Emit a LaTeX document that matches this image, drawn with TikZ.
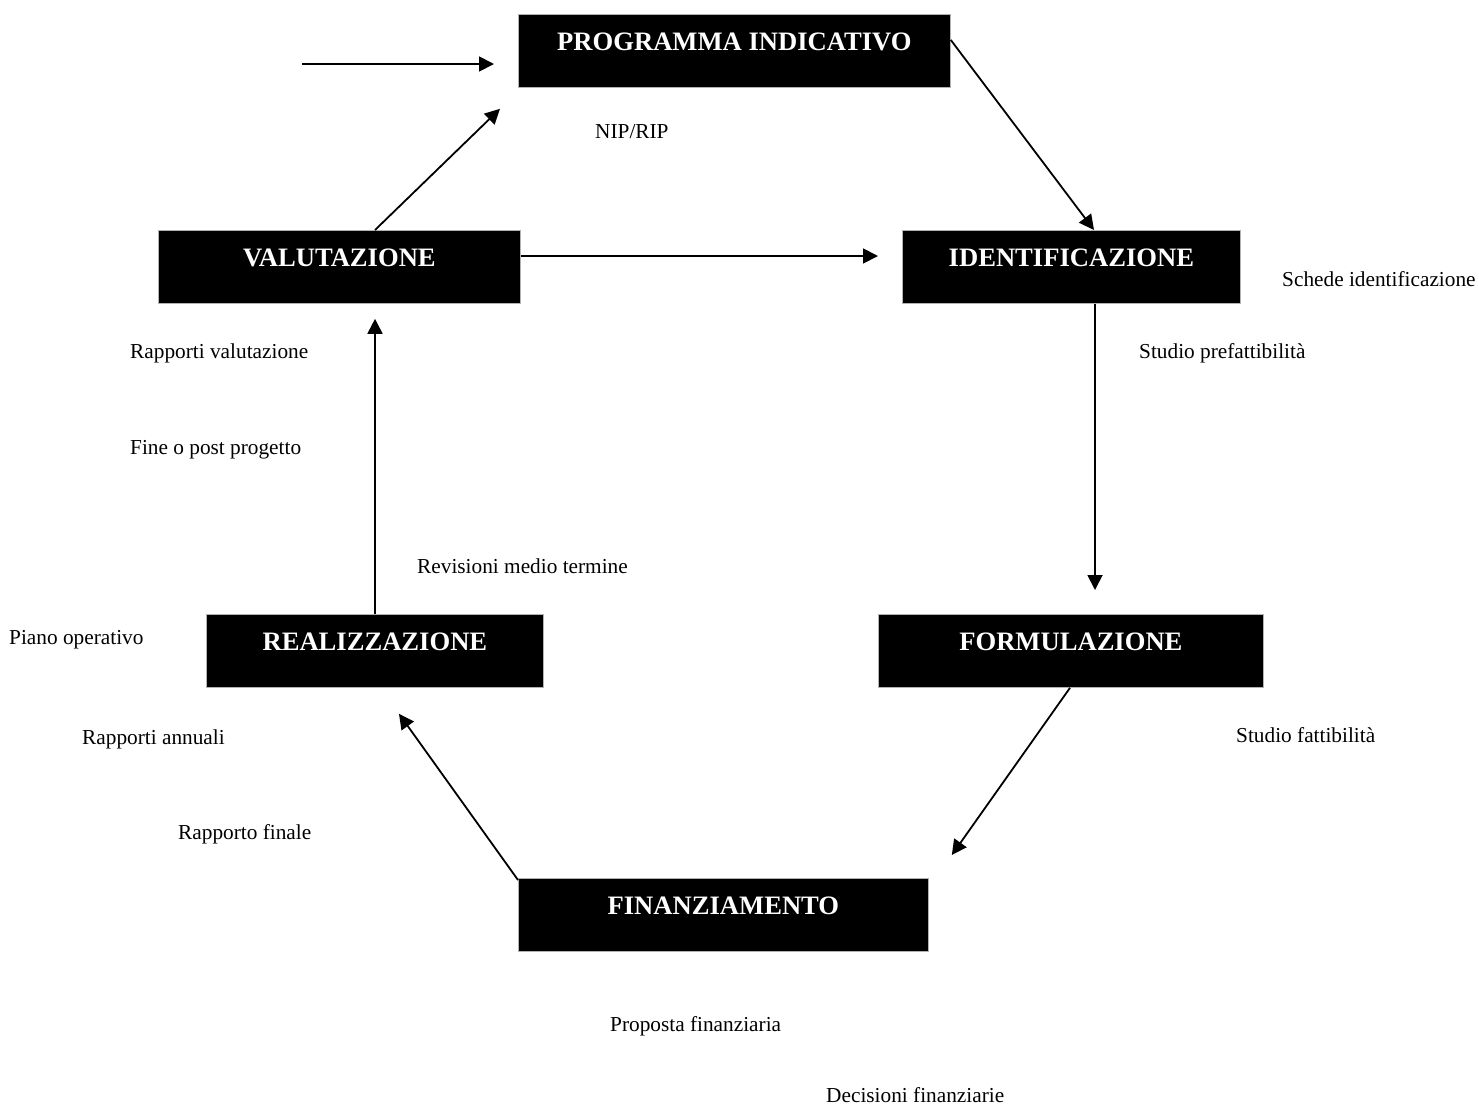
\documentclass[tikz,border=0pt]{standalone}
\usepackage{fontspec}
\setmainfont{Liberation Serif}
\usetikzlibrary{arrows.meta,calc}
\begin{document}
\begin{tikzpicture}[x=1pt,y=-1pt,
  phase/.style={draw=gray!60,line width=0.8pt,fill=black,anchor=north west,inner sep=0pt,minimum height=73pt},
  title/.style={text=white,font=\fontsize{26.6}{30}\selectfont\bfseries,inner sep=0pt},
  note/.style={font=\fontsize{21.3}{25}\selectfont,anchor=base west,inner sep=0pt},
  flow/.style={line width=1.8pt,-{Triangle[length=15pt,width=15pt]}}]
\useasboundingbox[fill=white] (0,0) rectangle (1479,1106);

% phase boxes
\node[phase,minimum width=432pt] (prog)  at (518,14)  {};
\node[phase,minimum width=362pt] (val)   at (158,230) {};
\node[phase,minimum width=338pt] (ident) at (902,230) {};
\node[phase,minimum width=337pt] (real)  at (206,614) {};
\node[phase,minimum width=385pt] (form)  at (878,614) {};
\node[phase,minimum width=410pt] (fin)   at (518,878) {};

% phase titles, set in the upper part of each box
\node[title] (progT)  at ($(prog.north)+(0,28)$)  {PROGRAMMA INDICATIVO};
\node[title] (valT)   at ($(val.north)+(0,28)$)   {VALUTAZIONE};
\node[title] (identT) at ($(ident.north)+(0,28)$) {IDENTIFICAZIONE};
\node[title] (realT)  at ($(real.north)+(0,28)$)  {REALIZZAZIONE};
\node[title] (formT)  at ($(form.north)+(0,28)$)  {FORMULAZIONE};
\node[title] (finT)   at ($(fin.north)+(0,28)$)   {FINANZIAMENTO};

% cycle connectors
\coordinate (entry) at (302,64);
\draw[flow] (entry) -- ($(prog.north west)+(-24,50)$);
\draw[flow] ($(prog.north east)+(0,26)$) -- ($(ident.north west)+(192,0)$);
\draw[flow] ($(val.north west)+(217,0)$) -- ($(prog.south west)+(-18,21)$);
\draw[flow] ($(val.north east)+(0,26)$) -- ($(ident.north west)+(-24,26)$);
\draw[flow] ($(ident.south west)+(193,0)$) -- ($(form.north west)+(217,-24)$);
\draw[flow] ($(form.south west)+(192,0)$) -- ($(fin.north east)+(23,-23)$);
\draw[flow] ($(fin.north west)+(0,2)$) -- ($(real.south west)+(193,26)$);
\draw[flow] ($(real.north west)+(169,0)$) -- ($(val.south west)+(217,15)$);

% documents of each phase
\node[note] (n1)  at (595,138)  {NIP/RIP};
\node[note] (n2)  at (1282,286) {Schede identificazione};
\node[note] (n3)  at (130,358)  {Rapporti valutazione};
\node[note] (n4)  at (1139,358) {Studio prefattibilità};
\node[note] (n5)  at (130,454)  {Fine o post progetto};
\node[note] (n6)  at (417,573)  {Revisioni medio termine};
\node[note] (n7)  at (9,644)    {Piano operativo};
\node[note] (n8)  at (82,744)   {Rapporti annuali};
\node[note] (n9)  at (1236,742) {Studio fattibilità};
\node[note] (n10) at (178,839)  {Rapporto finale};
\node[note] (n11) at (610,1031) {Proposta finanziaria};
\node[note] (n12) at (826,1102) {Decisioni finanziarie};
\end{tikzpicture}
\end{document}
